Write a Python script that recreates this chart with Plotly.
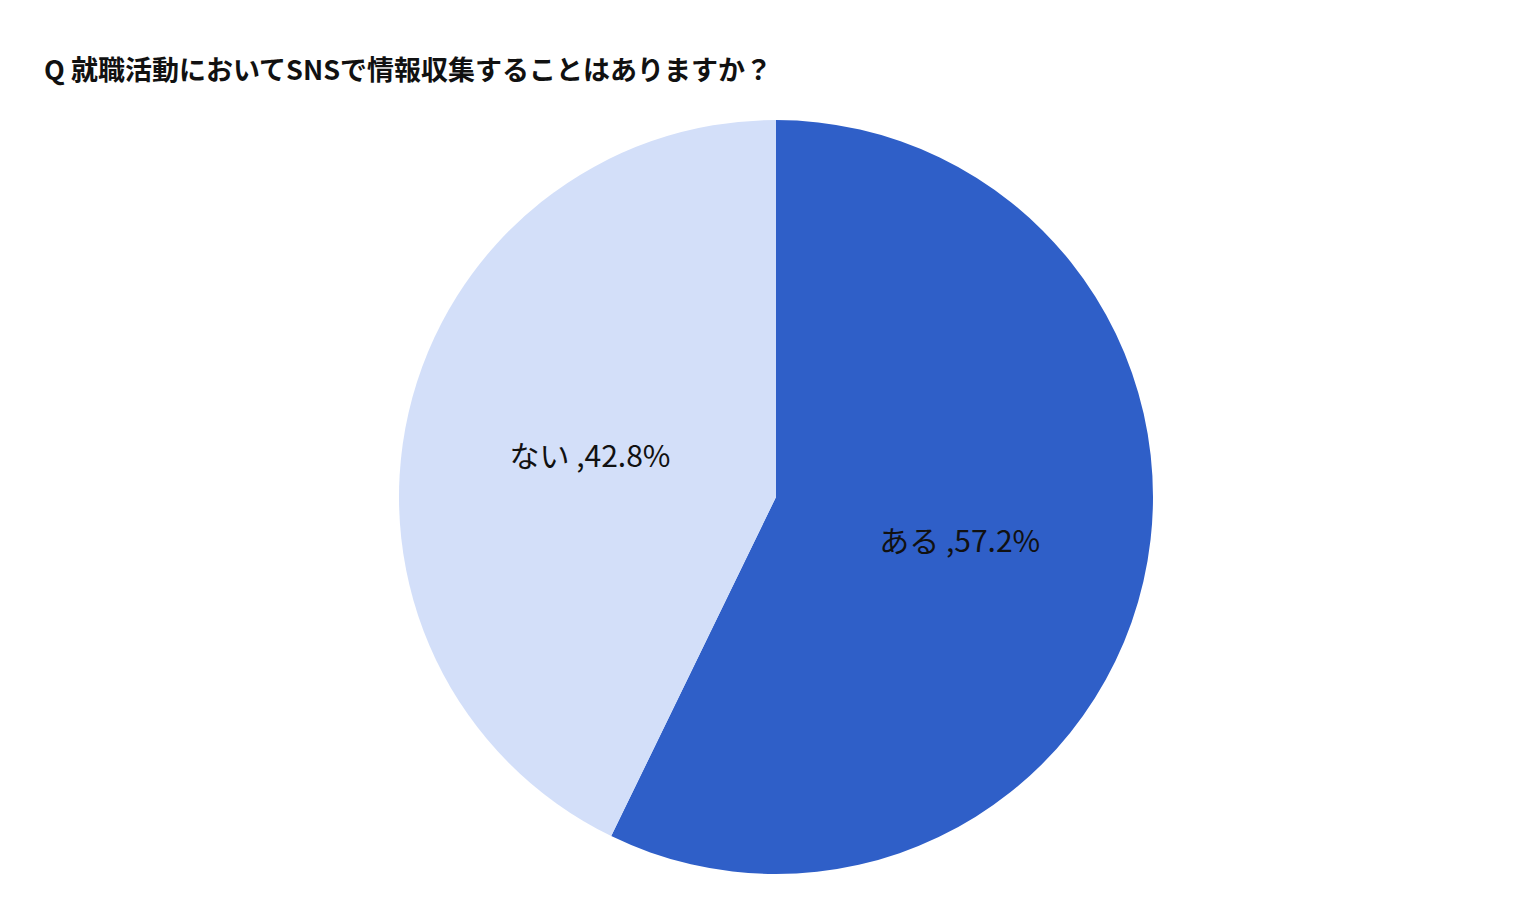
import plotly.graph_objects as go

labels = ["ある", "ない"]
values = [57.2, 42.8]
colors = ["#2f5fc8", "#d3dff9"]

fig = go.Figure(go.Pie(
    labels=labels, values=values, sort=False, direction="clockwise", rotation=0,
    marker=dict(colors=colors, line=dict(width=0)),
    texttemplate="%{label} ,%{value:.1f}%", textposition="inside",
    insidetextorientation="horizontal",
    textfont=dict(size=30, color="#111111", family="Noto Sans CJK JP"),
    domain=dict(x=[0.5 - 377/1536, 0.5 + 377/1536], y=[38/917, 780/917 + 38/917]),
    showlegend=False, hoverinfo="label+percent",
))
fig.update_layout(
    width=1536, height=917, margin=dict(l=0, r=0, t=0, b=0),
    paper_bgcolor="white", plot_bgcolor="white",
    title=dict(text="<b>Q 就職活動においてSNSで情報収集することはありますか？</b>",
               x=36/1536, xanchor="left", y=1 - 63/917, yanchor="middle",
               font=dict(size=27, color="#111111", family="Noto Sans CJK JP")),
    uniformtext=dict(minsize=30, mode="show"),
)
fig.write_html("out.html")
